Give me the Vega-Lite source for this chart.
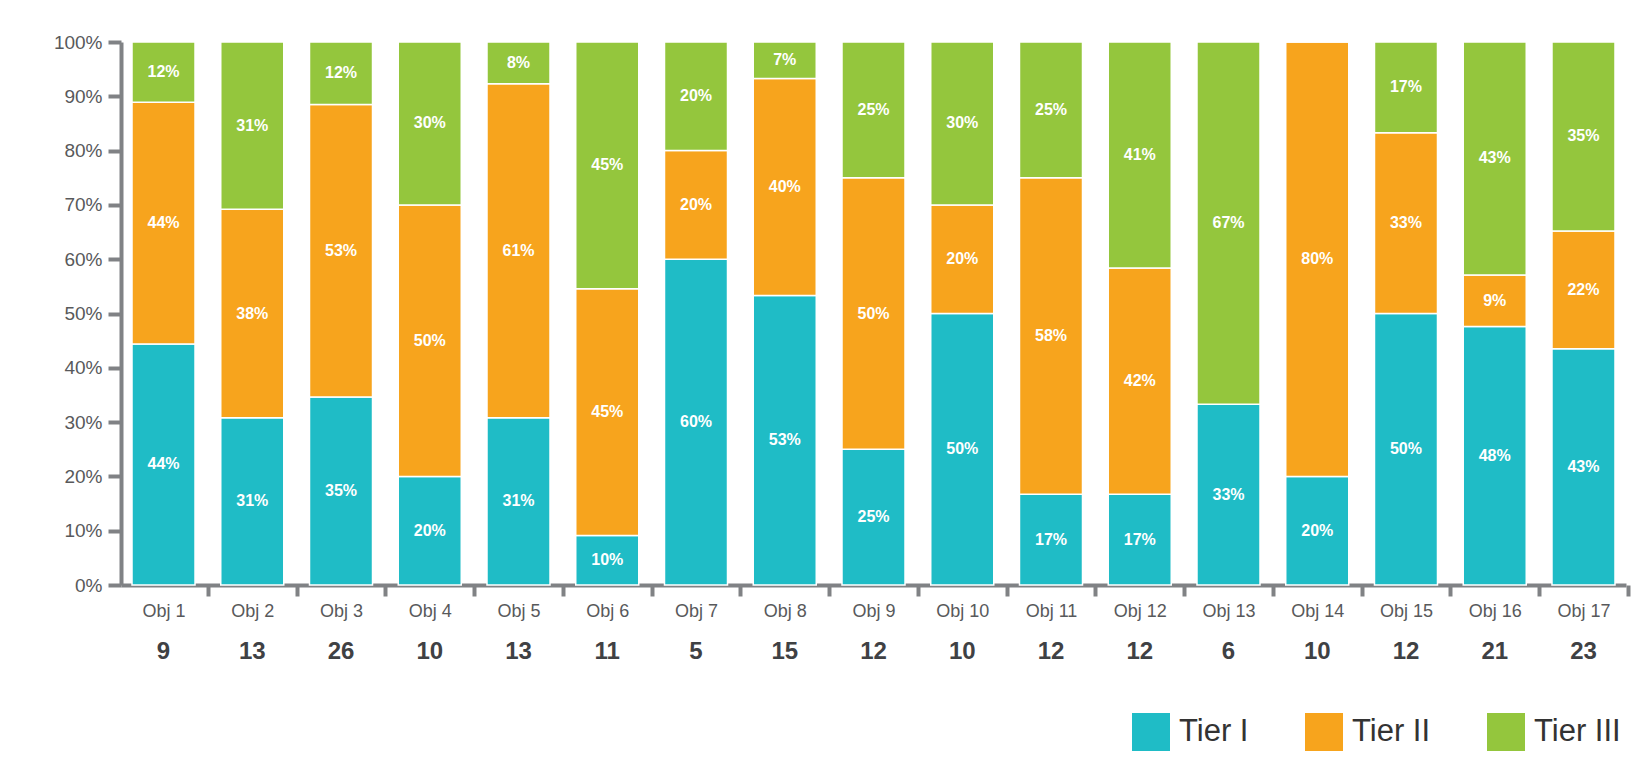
{
  "$schema": "https://vega.github.io/schema/vega-lite/v6.json",
  "autosize": {"type": "none"},
  "width": 1505,
  "height": 543,
  "padding": {"left": 121, "top": 42, "right": 19, "bottom": 182},
  "background": "white",
  "config": {"view": {"stroke": null}, "font": "Liberation Sans"},
  "datasets": {
    "tiers": [
      {"obj": "Obj 1", "tier": "Tier I", "pct": 44.4, "label": "44%"},
      {"obj": "Obj 1", "tier": "Tier II", "pct": 44.5, "label": "44%"},
      {"obj": "Obj 1", "tier": "Tier III", "pct": 11.1, "label": "12%"},
      {"obj": "Obj 2", "tier": "Tier I", "pct": 30.8, "label": "31%"},
      {"obj": "Obj 2", "tier": "Tier II", "pct": 38.4, "label": "38%"},
      {"obj": "Obj 2", "tier": "Tier III", "pct": 30.8, "label": "31%"},
      {"obj": "Obj 3", "tier": "Tier I", "pct": 34.6, "label": "35%"},
      {"obj": "Obj 3", "tier": "Tier II", "pct": 53.9, "label": "53%"},
      {"obj": "Obj 3", "tier": "Tier III", "pct": 11.5, "label": "12%"},
      {"obj": "Obj 4", "tier": "Tier I", "pct": 20, "label": "20%"},
      {"obj": "Obj 4", "tier": "Tier II", "pct": 50, "label": "50%"},
      {"obj": "Obj 4", "tier": "Tier III", "pct": 30, "label": "30%"},
      {"obj": "Obj 5", "tier": "Tier I", "pct": 30.8, "label": "31%"},
      {"obj": "Obj 5", "tier": "Tier II", "pct": 61.5, "label": "61%"},
      {"obj": "Obj 5", "tier": "Tier III", "pct": 7.7, "label": "8%"},
      {"obj": "Obj 6", "tier": "Tier I", "pct": 9.1, "label": "10%"},
      {"obj": "Obj 6", "tier": "Tier II", "pct": 45.45, "label": "45%"},
      {"obj": "Obj 6", "tier": "Tier III", "pct": 45.45, "label": "45%"},
      {"obj": "Obj 7", "tier": "Tier I", "pct": 60, "label": "60%"},
      {"obj": "Obj 7", "tier": "Tier II", "pct": 20, "label": "20%"},
      {"obj": "Obj 7", "tier": "Tier III", "pct": 20, "label": "20%"},
      {"obj": "Obj 8", "tier": "Tier I", "pct": 53.3, "label": "53%"},
      {"obj": "Obj 8", "tier": "Tier II", "pct": 40, "label": "40%"},
      {"obj": "Obj 8", "tier": "Tier III", "pct": 6.7, "label": "7%"},
      {"obj": "Obj 9", "tier": "Tier I", "pct": 25, "label": "25%"},
      {"obj": "Obj 9", "tier": "Tier II", "pct": 50, "label": "50%"},
      {"obj": "Obj 9", "tier": "Tier III", "pct": 25, "label": "25%"},
      {"obj": "Obj 10", "tier": "Tier I", "pct": 50, "label": "50%"},
      {"obj": "Obj 10", "tier": "Tier II", "pct": 20, "label": "20%"},
      {"obj": "Obj 10", "tier": "Tier III", "pct": 30, "label": "30%"},
      {"obj": "Obj 11", "tier": "Tier I", "pct": 16.7, "label": "17%"},
      {"obj": "Obj 11", "tier": "Tier II", "pct": 58.3, "label": "58%"},
      {"obj": "Obj 11", "tier": "Tier III", "pct": 25, "label": "25%"},
      {"obj": "Obj 12", "tier": "Tier I", "pct": 16.7, "label": "17%"},
      {"obj": "Obj 12", "tier": "Tier II", "pct": 41.7, "label": "42%"},
      {"obj": "Obj 12", "tier": "Tier III", "pct": 41.6, "label": "41%"},
      {"obj": "Obj 13", "tier": "Tier I", "pct": 33.3, "label": "33%"},
      {"obj": "Obj 13", "tier": "Tier II", "pct": 0, "label": ""},
      {"obj": "Obj 13", "tier": "Tier III", "pct": 66.7, "label": "67%"},
      {"obj": "Obj 14", "tier": "Tier I", "pct": 20, "label": "20%"},
      {"obj": "Obj 14", "tier": "Tier II", "pct": 80, "label": "80%"},
      {"obj": "Obj 14", "tier": "Tier III", "pct": 0, "label": ""},
      {"obj": "Obj 15", "tier": "Tier I", "pct": 50, "label": "50%"},
      {"obj": "Obj 15", "tier": "Tier II", "pct": 33.3, "label": "33%"},
      {"obj": "Obj 15", "tier": "Tier III", "pct": 16.7, "label": "17%"},
      {"obj": "Obj 16", "tier": "Tier I", "pct": 47.6, "label": "48%"},
      {"obj": "Obj 16", "tier": "Tier II", "pct": 9.5, "label": "9%"},
      {"obj": "Obj 16", "tier": "Tier III", "pct": 42.9, "label": "43%"},
      {"obj": "Obj 17", "tier": "Tier I", "pct": 43.5, "label": "43%"},
      {"obj": "Obj 17", "tier": "Tier II", "pct": 21.7, "label": "22%"},
      {"obj": "Obj 17", "tier": "Tier III", "pct": 34.8, "label": "35%"}
    ],
    "counts": [
      {"obj": "Obj 1", "n": 9}, {"obj": "Obj 2", "n": 13}, {"obj": "Obj 3", "n": 26},
      {"obj": "Obj 4", "n": 10}, {"obj": "Obj 5", "n": 13}, {"obj": "Obj 6", "n": 11},
      {"obj": "Obj 7", "n": 5}, {"obj": "Obj 8", "n": 15}, {"obj": "Obj 9", "n": 12},
      {"obj": "Obj 10", "n": 10}, {"obj": "Obj 11", "n": 12}, {"obj": "Obj 12", "n": 12},
      {"obj": "Obj 13", "n": 6}, {"obj": "Obj 14", "n": 10}, {"obj": "Obj 15", "n": 12},
      {"obj": "Obj 16", "n": 21}, {"obj": "Obj 17", "n": 23}
    ]
  },
  "encoding": {
    "x": {
      "field": "obj",
      "type": "nominal",
      "sort": ["Obj 1","Obj 2","Obj 3","Obj 4","Obj 5","Obj 6","Obj 7","Obj 8","Obj 9","Obj 10","Obj 11","Obj 12","Obj 13","Obj 14","Obj 15","Obj 16","Obj 17"],
      "scale": {"paddingInner": 0.29, "paddingOuter": 0.124},
      "axis": {
        "title": null,
        "labelAngle": 0,
        "labelFontSize": 18,
        "labelColor": "#58595B",
        "labelPadding": 6,
        "domainColor": "#808285",
        "domainWidth": 4,
        "tickColor": "#808285",
        "tickWidth": 4,
        "tickSize": 11,
        "bandPosition": 1,
        "tickOffset": 12.9,
        "labelOffset": -12.9
      }
    }
  },
  "layer": [
    {
      "data": {"name": "tiers"},
      "mark": {"type": "bar", "stroke": "white", "strokeWidth": 1.5},
      "encoding": {
        "y": {
          "field": "pct",
          "type": "quantitative",
          "stack": "normalize",
          "scale": {"domain": [0, 1]},
          "axis": {
            "title": null,
            "format": ".0%",
            "values": [0, 0.1, 0.2, 0.3, 0.4, 0.5, 0.6, 0.7, 0.8, 0.9, 1],
            "labelFontSize": 19,
            "labelColor": "#58595B",
            "labelPadding": 6,
            "domainColor": "#808285",
            "domainWidth": 4,
            "tickColor": "#808285",
            "tickWidth": 4,
            "tickSize": 13,
            "grid": false
          }
        },
        "color": {
          "field": "tier",
          "type": "nominal",
          "scale": {"domain": ["Tier I", "Tier II", "Tier III"], "range": ["#1FBCC6", "#F7A41D", "#94C63D"]},
          "legend": {
            "title": null,
            "orient": "none",
            "direction": "horizontal",
            "legendX": 1011,
            "legendY": 671,
            "symbolType": "square",
            "symbolSize": 1444,
            "symbolStrokeWidth": 0,
            "labelFontSize": 31,
            "labelColor": "#333333",
            "labelOffset": 9,
            "columnPadding": 56
          }
        },
        "order": {"field": "tier", "sort": "ascending"}
      }
    },
    {
      "data": {"name": "tiers"},
      "transform": [{"filter": "datum.pct > 0"}],
      "mark": {"type": "text", "color": "white", "fontWeight": "bold", "fontSize": 16, "baseline": "middle"},
      "encoding": {
        "y": {"field": "pct", "type": "quantitative", "stack": "normalize", "bandPosition": 0.5},
        "detail": {"field": "tier"},
        "order": {"field": "tier", "sort": "ascending"},
        "text": {"field": "label"}
      }
    },
    {
      "data": {"name": "counts"},
      "mark": {"type": "text", "fontWeight": "bold", "fontSize": 24, "color": "#3F4144", "baseline": "middle"},
      "encoding": {
        "y": {"datum": -0.123, "type": "quantitative"},
        "text": {"field": "n"}
      }
    }
  ]
}
